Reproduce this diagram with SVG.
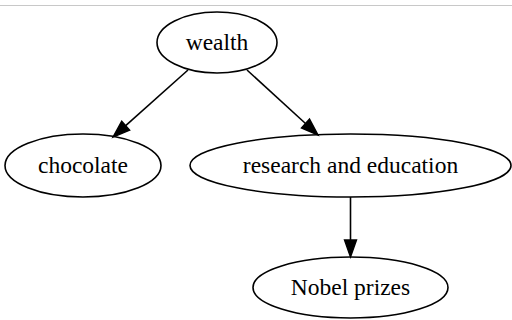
<svg xmlns="http://www.w3.org/2000/svg" width="512" height="320" viewBox="0 0 512 320">
<style>
.n ellipse{fill:none;stroke:#000;stroke-width:1.6}
.n text{font-family:"Liberation Serif","Times New Roman",serif;font-size:23.5px;fill:#000;text-anchor:middle}
.e line{stroke:#000;stroke-width:1.6}
</style>
<defs>
<marker id="ah" markerUnits="userSpaceOnUse" markerWidth="20" markerHeight="14" refX="0" refY="0" viewBox="0 -7 20 14" orient="auto" overflow="visible">
<path d="M0,-6 L17,0 L0,6 Z" fill="#000" stroke="#000" stroke-width="1.4"/>
</marker>
</defs>
<rect width="512" height="320" fill="#fff"/>
<line x1="0" y1="5.5" x2="512" y2="5.5" stroke="#c8c8c8" stroke-width="1.2"/>
<g class="e" id="edges">
<line x1="188" y1="70" x2="125.7" y2="125.7" marker-end="url(#ah)"/>
<line x1="247" y1="70" x2="305.5" y2="123.5" marker-end="url(#ah)"/>
<line x1="350.5" y1="197" x2="350.5" y2="240" marker-end="url(#ah)"/>
</g>
<g class="n" id="wealth"><ellipse cx="217" cy="42.5" rx="60" ry="30.5"/><text x="217" y="50">wealth</text></g>
<g class="n" id="chocolate"><ellipse cx="83" cy="165.5" rx="78" ry="31.5"/><text x="83" y="173">chocolate</text></g>
<g class="n" id="research"><ellipse cx="350.5" cy="165.5" rx="160.5" ry="31.5"/><text x="350.5" y="173">research and education</text></g>
<g class="n" id="nobel"><ellipse cx="350.5" cy="287.5" rx="97.5" ry="30.5"/><text x="350.5" y="295">Nobel prizes</text></g>
</svg>
